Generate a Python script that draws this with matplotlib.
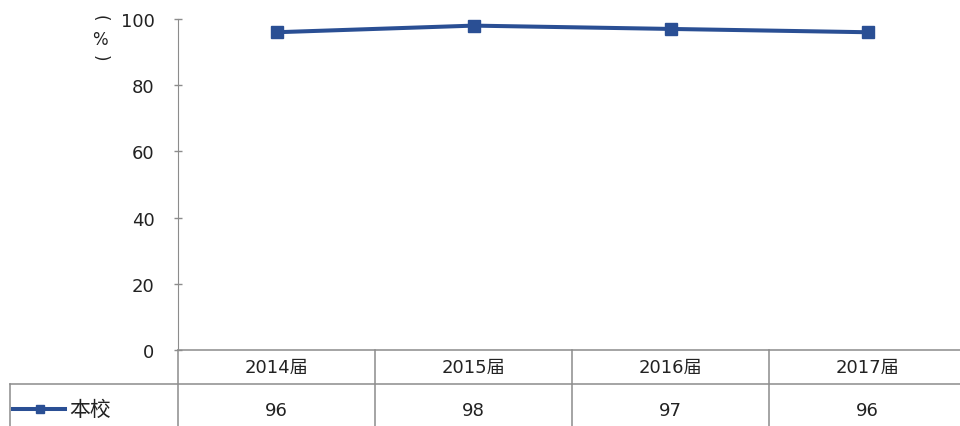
import matplotlib.pyplot as plt

plt.rcParams['font.family'] = ['DejaVu Sans', 'Noto Sans CJK SC']

# Data
years = ['2014届', '2015届', '2016届', '2017届']
school = [96, 98, 97, 96]
series_name = '本校'
y_ticks = [0, 20, 40, 60, 80, 100]

line_color = '#2A4F94'
grid_color = '#8C8C8C'
text_color = '#222222'

W, H = 960, 427
fig = plt.figure(figsize=(W / 100, H / 100), dpi=100)

# plot area spans pixel x 178..966, y 20..351
ax_l, ax_r, ax_t, ax_b = 178, 966, 20, 351
col_px = (ax_r - ax_l) / len(years)
ax = fig.add_axes([ax_l / W, 1 - ax_b / H, (ax_r - ax_l) / W, (ax_b - ax_t) / H])

xs = list(range(len(years)))
ax.plot(xs, school, color=line_color, linewidth=2.9, marker='s', markersize=8,
        markerfacecolor=line_color, markeredgecolor=line_color, clip_on=False)

ax.set_xlim(-0.5, len(years) - 0.5)
ax.set_ylim(0, 100)
ax.set_yticks(y_ticks)
ax.set_xticks([])
ax.tick_params(axis='y', direction='inout', length=6, width=1, color=grid_color,
               labelsize=13, pad=14, labelcolor=text_color)
for side in ['top', 'right', 'bottom']:
    ax.spines[side].set_visible(False)
ax.spines['left'].set_color(grid_color)

# vertical y label (%)
fig.text(100 / W, 1 - 18 / H, '(', ha='center', va='center', fontsize=12,
         color=text_color, rotation=-90)
fig.text(100 / W, 1 - 40 / H, '%', ha='center', va='center', fontsize=12,
         color=text_color)
fig.text(100 / W, 1 - 58 / H, ')', ha='center', va='center', fontsize=12,
         color=text_color, rotation=-90)

# data table below the plot, same x units as the plot
tb_l, tb_t, tb_b = 10, 351, 431
lab_w = (ax_l - tb_l) / col_px
tab = fig.add_axes([tb_l / W, 1 - tb_b / H, (ax_r - tb_l) / W, (tb_b - tb_t) / H])
tab.set_xlim(-0.5 - lab_w, len(years) - 0.5)
tab.set_ylim(tb_b - tb_t, 0)
tab.axis('off')

head_y = 385 - tb_t
lw = 1.1
tab.plot([-0.5, len(years) - 0.5], [0, 0], color=grid_color, lw=lw, clip_on=False)
tab.plot([-0.5 - lab_w, len(years) - 0.5], [head_y, head_y], color=grid_color, lw=lw,
         clip_on=False)
tab.plot([-0.5 - lab_w, -0.5 - lab_w], [head_y, tb_b - tb_t], color=grid_color, lw=lw,
         clip_on=False)
for i in range(len(years) + 1):
    tab.plot([i - 0.5, i - 0.5], [0, tb_b - tb_t], color=grid_color, lw=lw, clip_on=False)

for i, (yr, v) in enumerate(zip(years, school)):
    tab.text(i, 368 - tb_t, yr, ha='center', va='center', fontsize=13, color=text_color)
    tab.text(i, 411 - tb_t, str(v), ha='center', va='center', fontsize=13, color=text_color)

# legend key in the row label cell
key_y = 410 - tb_t
key_x0 = -0.5 - lab_w + 3 / col_px
key_x1 = -0.5 - lab_w + 55 / col_px
tab.plot([key_x0, key_x1], [key_y, key_y], color=line_color, lw=2.9, clip_on=False)
tab.plot([-0.5 - lab_w + 30 / col_px], [key_y], color=line_color, marker='s', markersize=6,
         clip_on=False)
tab.text(-0.5 - lab_w + 59 / col_px, key_y, series_name, ha='left', va='center',
         fontsize=15, color=text_color, family='Noto Sans CJK SC')

fig.savefig('out.png', dpi=100)
